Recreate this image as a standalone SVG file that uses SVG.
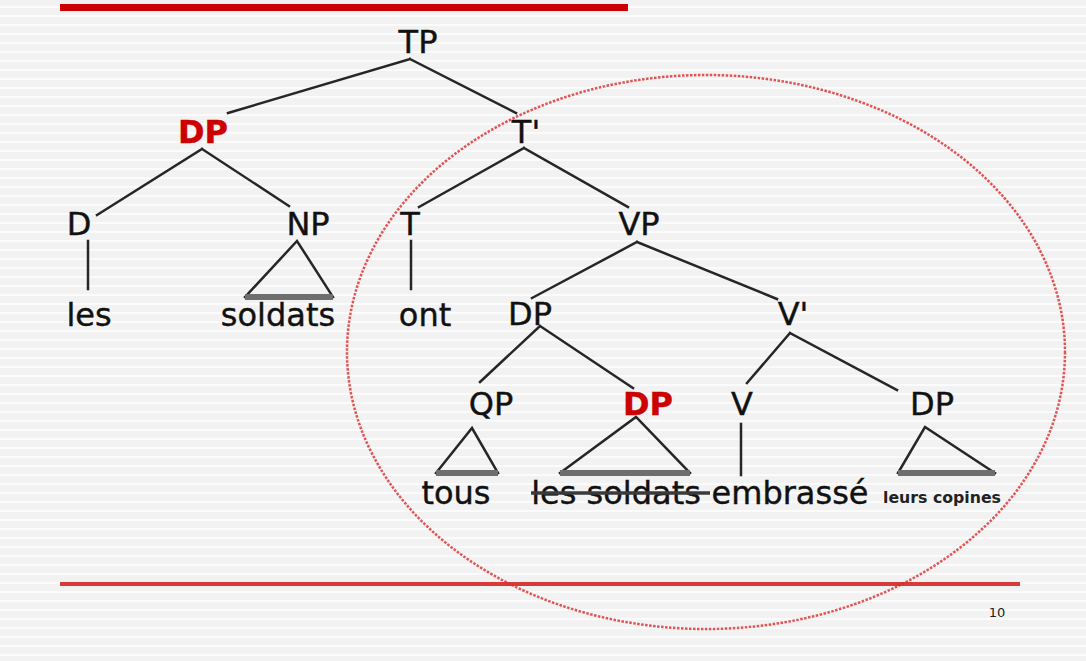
<svg xmlns="http://www.w3.org/2000/svg" width="1086" height="661" viewBox="0 0 1086 661">
  <defs>
    <pattern id="stripes" width="1086" height="9" patternUnits="userSpaceOnUse">
      <rect width="1086" height="9" fill="#f2f2f2"/>
      <rect y="6" width="1086" height="2" fill="#fbfbfb"/>
    </pattern>
    <style>
      .lbl { font-family: "DejaVu Sans", Verdana, sans-serif; font-size: 32px; fill: #111; stroke: #111; stroke-width: 0.4; text-anchor: middle; }
      .hl { font-weight: bold; fill: #cc0000; stroke: #cc0000; }
      .edge { stroke: #262626; stroke-width: 2.5; fill: none; stroke-linecap: square; }
      .base { stroke: #6e6e6e; stroke-width: 6; }
      .small { font-family: "DejaVu Sans", Verdana, sans-serif; fill: #222; text-anchor: middle; }
    </style>
  </defs>

  <!-- slide background -->
  <rect width="1086" height="661" fill="url(#stripes)"/>
  <rect x="60" y="4" width="568" height="7" fill="#cc0000"/>
  <rect x="60" y="582" width="960" height="4" fill="#d83a3a"/>

  <!-- connectors -->
  <g id="connectors">
    <path class="edge" d="M410 59 L228 113 M410 59 L516 113"/>
    <path class="edge" d="M202 149 L97 215 M202 149 L289 206"/>
    <path class="edge" d="M88 241 V289"/>
    <path class="edge" d="M524 148 L419 207 M524 148 L628 207"/>
    <path class="edge" d="M411 241 V289"/>
    <path class="edge" d="M637 242 L532 298 M637 242 L777 299"/>
    <path class="edge" d="M540 326 L480 382 M540 326 L633 388"/>
    <path class="edge" d="M790 333 L747 383 M790 333 L897 390"/>
    <path class="edge" d="M741 424 V475"/>
    <!-- summary triangles -->
    <path class="edge" d="M245 297 L297 241 L333 297"/>
    <line class="base" x1="245" y1="297" x2="333" y2="297"/>
    <path class="edge" d="M436 473 L472 428 L498 473"/>
    <line class="base" x1="436" y1="473" x2="498" y2="473"/>
    <path class="edge" d="M560 473 L636 417 L690 473"/>
    <line class="base" x1="560" y1="473" x2="690" y2="473"/>
    <path class="edge" d="M898 473 L925 427 L995 473"/>
    <line class="base" x1="898" y1="473" x2="995" y2="473"/>
  </g>

  <!-- nodes -->
  <g id="n-tp"><text class="lbl" x="418" y="53">TP</text></g>
  <g id="n-dp-subj"><text class="lbl hl" x="203" y="143">DP</text></g>
  <g id="n-tbar"><text class="lbl" x="526" y="143">T'</text></g>
  <g id="n-d"><text class="lbl" x="79" y="235">D</text></g>
  <g id="n-np"><text class="lbl" x="308" y="235">NP</text></g>
  <g id="n-t"><text class="lbl" x="410" y="235">T</text></g>
  <g id="n-vp"><text class="lbl" x="639" y="235">VP</text></g>
  <g id="w-les"><text class="lbl" x="89" y="326">les</text></g>
  <g id="w-soldats"><text class="lbl" x="278" y="326">soldats</text></g>
  <g id="w-ont"><text class="lbl" x="425" y="326">ont</text></g>
  <g id="n-dp-spec"><text class="lbl" x="530" y="325">DP</text></g>
  <g id="n-vbar"><text class="lbl" x="793" y="325">V'</text></g>
  <g id="n-qp"><text class="lbl" x="491" y="415">QP</text></g>
  <g id="n-dp-trace"><text class="lbl hl" x="648" y="415">DP</text></g>
  <g id="n-v"><text class="lbl" x="742" y="415">V</text></g>
  <g id="n-dp-obj"><text class="lbl" x="932" y="415">DP</text></g>
  <g id="w-tous"><text class="lbl" x="456" y="504">tous</text></g>
  <g id="w-les-soldats">
    <text class="lbl" x="616" y="504">les soldats</text>
    <line x1="531" y1="493" x2="710" y2="493" stroke="#3a3a3a" stroke-width="3.5"/>
  </g>
  <g id="w-embrasse"><text class="lbl" x="790" y="504">embrassé</text></g>
  <g id="w-copines"><text class="small" x="942" y="503" style="font-size:15px;font-weight:bold" textLength="118" lengthAdjust="spacingAndGlyphs">leurs copines</text></g>

  <!-- highlighted region -->
  <ellipse cx="706" cy="352" rx="359" ry="277" fill="none" stroke="#dd2a2a" stroke-width="2.5" stroke-dasharray="2.5 1.5" opacity="0.8"/>

  <text class="small" x="997" y="617" style="font-size:13px">10</text>
</svg>
